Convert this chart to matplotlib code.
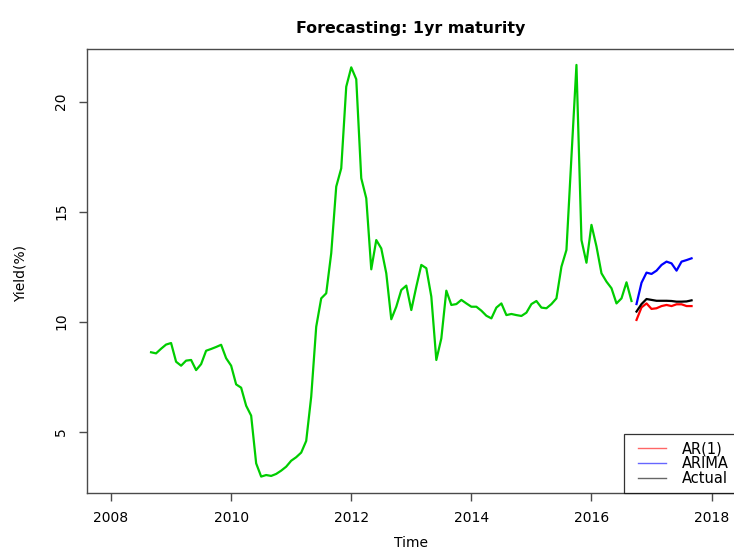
import numpy as np
import matplotlib
matplotlib.use("Agg")
import matplotlib.pyplot as plt
from matplotlib.lines import Line2D
from matplotlib.legend_handler import HandlerLine2D

# Monthly 1-year yield, Sep 2008 - Sep 2016
hist_start = 2008 + 8 / 12
hist_yield = [
    8.61, 8.56, 8.77, 8.96, 9.03, 8.18, 8.00, 8.23, 8.26, 7.80, 8.07, 8.68,
    8.76, 8.85, 8.95, 8.34, 8.00, 7.15, 7.00, 6.18, 5.73, 3.56, 2.96, 3.03,
    2.99, 3.08, 3.23, 3.41, 3.68, 3.84, 4.05, 4.58, 6.59, 9.77, 11.06, 11.29,
    13.11, 16.14, 16.97, 20.68, 21.56, 21.02, 16.52, 15.61, 12.38, 13.71, 13.33, 12.20,
    10.11, 10.68, 11.44, 11.64, 10.53, 11.59, 12.58, 12.43, 11.14, 8.26, 9.24, 11.41,
    10.76, 10.80, 10.99, 10.83, 10.68, 10.68, 10.50, 10.27, 10.15, 10.64, 10.83, 10.30,
    10.35, 10.30, 10.26, 10.41, 10.80, 10.94, 10.64, 10.61, 10.80, 11.06, 12.50, 13.26,
    17.50, 21.67, 13.71, 12.68, 14.40, 13.42, 12.20, 11.82, 11.52, 10.83, 11.06, 11.79,
    10.94,
]

# Forecast horizon, Oct 2016 - Sep 2017
fc_start = 2016 + 9 / 12
ar1_fc = [10.08, 10.65, 10.83, 10.58, 10.61, 10.71, 10.76, 10.71, 10.79, 10.79, 10.71, 10.71]
arima_fc = [10.80, 11.77, 12.23, 12.17, 12.32, 12.58, 12.73, 12.65, 12.32, 12.73, 12.80, 12.88]
actual = [10.46, 10.80, 11.03, 10.99, 10.95, 10.95, 10.95, 10.94, 10.91, 10.91, 10.92, 10.97]

legend_labels = ["AR(1)", "ARIMA", "Actual"]
legend_colors = ["red", "blue", "black"]
x_ticks = [2008, 2010, 2012, 2014, 2016, 2018]
y_ticks = [5, 10, 15, 20]

t_hist = hist_start + np.arange(len(hist_yield)) / 12
t_fc = fc_start + np.arange(len(actual)) / 12

plt.rcParams["font.family"] = ["DejaVu Sans"]

W, H = 734, 554
fig = plt.figure(figsize=(W / 100, H / 100), dpi=100)
ax = fig.add_axes([87 / W, (H - 493.3) / H, (735.6 - 87) / W, (493.3 - 49.3) / H])

lw = 1.6
ax.plot(t_hist, hist_yield, color="#00CD00", lw=lw)
ax.plot(t_fc, ar1_fc, color="red", lw=lw)
ax.plot(t_fc, arima_fc, color="blue", lw=lw)
ax.plot(t_fc, actual, color="black", lw=lw)

ax.set_xlim(2007.6, 2018.4)
ax.set_ylim(2.2, 22.38)
ax.set_xticks(x_ticks)
ax.set_yticks(y_ticks)
ax.set_xticklabels([str(v) for v in x_ticks])
ax.set_yticklabels([str(v) for v in y_ticks], rotation=90, va="center")

for s in ax.spines.values():
    s.set_color("#4a4a4a")
    s.set_linewidth(1.0)
ax.tick_params(axis="both", direction="out", length=6, width=1.0,
               color="#4a4a4a", labelsize=10, labelcolor="black")
ax.tick_params(axis="x", pad=6.5)
ax.tick_params(axis="y", pad=7.5)

leg_fs = 10.5
handles = [Line2D([], [], color=c, lw=1.0, alpha=0.6) for c in legend_colors]
leg = ax.legend(handles, legend_labels, loc="lower right", borderaxespad=0,
                fancybox=False, frameon=True, fontsize=leg_fs,
                handlelength=2.4, handletextpad=1.03, labelspacing=-0.02,
                borderpad=0.5,
                handler_map={Line2D: HandlerLine2D(xpad=0.48)})
frame = leg.get_frame()
frame.set_edgecolor("black")
frame.set_linewidth(0.9)

fig.text(411 / W, 1 - 29 / H, "Forecasting: 1yr maturity", ha="center", va="center",
         fontsize=11.45, fontweight="bold")
fig.text(411 / W, 1 - 543 / H, "Time", ha="center", va="center", fontsize=10)
fig.text(21 / W, 1 - 273 / H, "Yield(%)", ha="center", va="center", rotation=90,
         fontsize=10)

fig.savefig("out.png", dpi=100)
